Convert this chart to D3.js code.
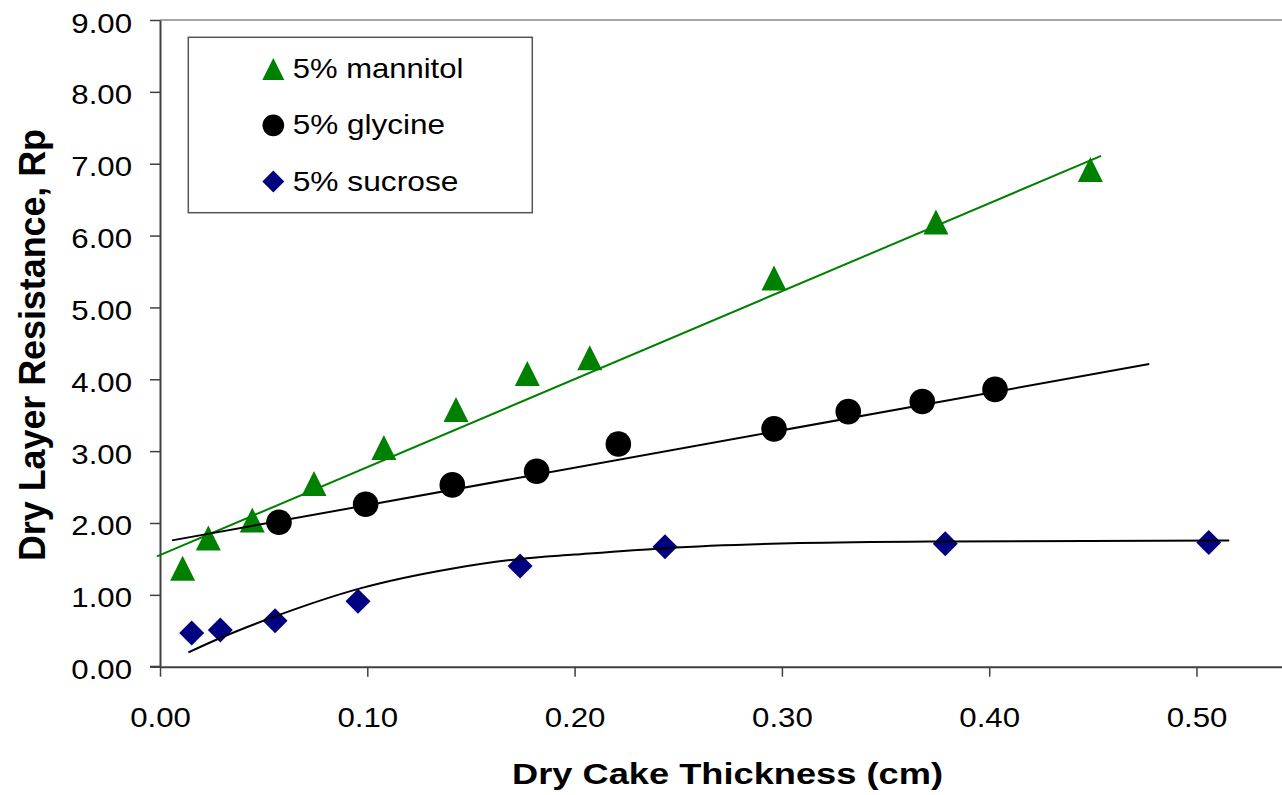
<!DOCTYPE html>
<html>
<head>
<meta charset="utf-8">
<script src="https://cdnjs.cloudflare.com/ajax/libs/d3/7.8.5/d3.min.js"></script>
<style>
  html, body { margin: 0; padding: 0; background: #fff; }
  svg { display: block; }
  text { font-family: "Liberation Sans", Arial, Helvetica, sans-serif; fill: #000; }
</style>
</head>
<body>
<svg id="chart" width="1282" height="795"></svg>
<script>
// Dry layer resistance vs dry cake thickness for three 5% excipient formulations

const seriesNames = ["5% mannitol", "5% glycine", "5% sucrose"];

// measured points: [thickness (cm), resistance Rp]
const mannitolPoints = [
  [0.0109, 1.37], [0.0233, 1.79], [0.0445, 2.04], [0.0743, 2.55], [0.108, 3.05],
  [0.1428, 3.58], [0.1772, 4.08], [0.2073, 4.30], [0.2962, 5.41], [0.3743, 6.19], [0.4488, 6.92]
];
const glycinePoints = [
  [0.0574, 2.01], [0.0992, 2.26], [0.141, 2.53], [0.1817, 2.72], [0.2211, 3.10],
  [0.2962, 3.31], [0.332, 3.55], [0.3677, 3.69], [0.4028, 3.86]
];
const sucrosePoints = [
  [0.0153, 0.47], [0.0291, 0.51], [0.0555, 0.64], [0.0955, 0.91], [0.1737, 1.40],
  [0.2436, 1.67], [0.3788, 1.71], [0.5059, 1.73]
];

// fitted trend lines
const mannitolTrend = [[-0.0015, 1.535], [0.454, 7.11]];
const glycineTrend = [[0.0058, 1.758], [0.4772, 4.213]];
const sucroseTrend = [
  [0.0137, 0.20], [0.0291, 0.40], [0.0555, 0.70], [0.0966, 1.09], [0.1399, 1.36],
  [0.1737, 1.50], [0.20, 1.56], [0.2436, 1.65], [0.3087, 1.72], [0.379, 1.744], [0.5158, 1.758]
];

const xTicks = [0, 0.1, 0.2, 0.3, 0.4, 0.5];
const yTicks = [0, 1, 2, 3, 4, 5, 6, 7, 8, 9];

const xTitle = "Dry Cake Thickness (cm)";
const yTitle = "Dry Layer Resistance, Rp";

const GREEN = "#008000", NAVY = "#000080", BLACK = "#000000";

const svg = d3.select("#chart");
const W = 1282, H = 795;

const x = d3.scaleLinear().domain([0, 0.55]).range([160, 160 + 0.55 * 2073]);
const y = d3.scaleLinear().domain([0, 9]).range([666.7, 20]);

// plot frame (top edge)
svg.append("line")
  .attr("x1", x(0)).attr("x2", W)
  .attr("y1", y(9)).attr("y2", y(9))
  .attr("stroke", "#888").attr("stroke-width", 1.5);

// y axis
const yAxis = svg.append("g")
  .attr("transform", `translate(${x(0)},0)`)
  .call(d3.axisLeft(y).tickValues(yTicks).tickSize(10).tickSizeOuter(0).tickFormat(d3.format(".2f")));
yAxis.select(".domain").attr("stroke", "#404040").attr("stroke-width", 2);
yAxis.selectAll(".tick line").attr("stroke", "#404040").attr("stroke-width", 1.5);
yAxis.selectAll(".tick text")
  .attr("x", -28).attr("dy", null).attr("y", 12)
  .attr("font-size", 27)
  .attr("textLength", 60.7).attr("lengthAdjust", "spacingAndGlyphs");

// x axis
const xAxis = svg.append("g")
  .attr("transform", `translate(0,${y(0)})`)
  .call(d3.axisBottom(x).tickValues(xTicks).tickSize(10).tickSizeOuter(0).tickFormat(d3.format(".2f")));
xAxis.select(".domain").attr("stroke", "#404040").attr("stroke-width", 2);
xAxis.selectAll(".tick line").attr("stroke", "#404040").attr("stroke-width", 1.5);
xAxis.selectAll(".tick text")
  .attr("dy", null).attr("y", 60)
  .attr("font-size", 27)
  .attr("textLength", 60.7).attr("lengthAdjust", "spacingAndGlyphs");
// extend x axis line left to meet the y tick at zero
svg.append("line")
  .attr("x1", 150).attr("x2", x(0))
  .attr("y1", y(0)).attr("y2", y(0))
  .attr("stroke", "#404040").attr("stroke-width", 2);

// axis titles
svg.append("text")
  .attr("x", 727.5).attr("y", 784)
  .attr("text-anchor", "middle")
  .attr("font-size", 29).attr("font-weight", "bold")
  .attr("textLength", 431).attr("lengthAdjust", "spacingAndGlyphs")
  .text(xTitle);

svg.append("text")
  .attr("transform", `translate(45,345) rotate(-90)`)
  .attr("text-anchor", "middle")
  .attr("font-size", 36).attr("font-weight", "bold")
  .attr("textLength", 432).attr("lengthAdjust", "spacingAndGlyphs")
  .text(yTitle);

// marker shapes
function markerPath(kind, s) {
  const h = s / 2;
  if (kind === "triangle") return `M0,${-h}L${h},${h}L${-h},${h}Z`;
  if (kind === "diamond") return `M0,${-h}L${h},0L0,${h}L${-h},0Z`;
  return null;
}

const series = [
  { name: seriesNames[0], pts: mannitolPoints, trend: mannitolTrend, kind: "triangle", color: GREEN, lineColor: GREEN, curve: d3.curveLinear },
  { name: seriesNames[1], pts: glycinePoints, trend: glycineTrend, kind: "circle", color: BLACK, lineColor: BLACK, curve: d3.curveLinear },
  { name: seriesNames[2], pts: sucrosePoints, trend: sucroseTrend, kind: "diamond", color: NAVY, lineColor: BLACK, curve: d3.curveMonotoneX }
];

function drawMarker(g, kind, color, cx, cy, size) {
  if (kind === "circle") {
    g.append("circle").attr("cx", cx).attr("cy", cy).attr("r", size / 2).attr("fill", color);
  } else {
    g.append("path").attr("d", markerPath(kind, size))
      .attr("transform", `translate(${cx},${cy})`).attr("fill", color);
  }
}

const marks = svg.append("g");
series.forEach(s => {
  const g = marks.append("g");
  s.pts.forEach(p => drawMarker(g, s.kind, s.color, x(p[0]), y(p[1]), s.kind === "circle" ? 25.6 : 25));
});

// trend lines on top of the markers
series.forEach(s => {
  svg.append("path")
    .datum(s.trend)
    .attr("d", d3.line().x(d => x(d[0])).y(d => y(d[1])).curve(s.curve))
    .attr("fill", "none")
    .attr("stroke", s.lineColor)
    .attr("stroke-width", 2);
});

// legend
const legendLengths = [170.7, 152.3, 165.7];
const legend = svg.append("g");
legend.append("rect")
  .attr("x", 188.3).attr("y", 37.3).attr("width", 344).attr("height", 175.4)
  .attr("fill", "#fff").attr("stroke", "#555").attr("stroke-width", 1.5);
series.forEach((s, i) => {
  const cy = 69 + i * 56.3;
  drawMarker(legend, s.kind, s.color, 273.3, cy, s.kind === "circle" ? 21.7 : 22);
  legend.append("text")
    .attr("x", 292.7).attr("y", cy + 9)
    .attr("font-size", 28)
    .attr("textLength", legendLengths[i]).attr("lengthAdjust", "spacingAndGlyphs")
    .text(s.name);
});
</script>
</body>
</html>
